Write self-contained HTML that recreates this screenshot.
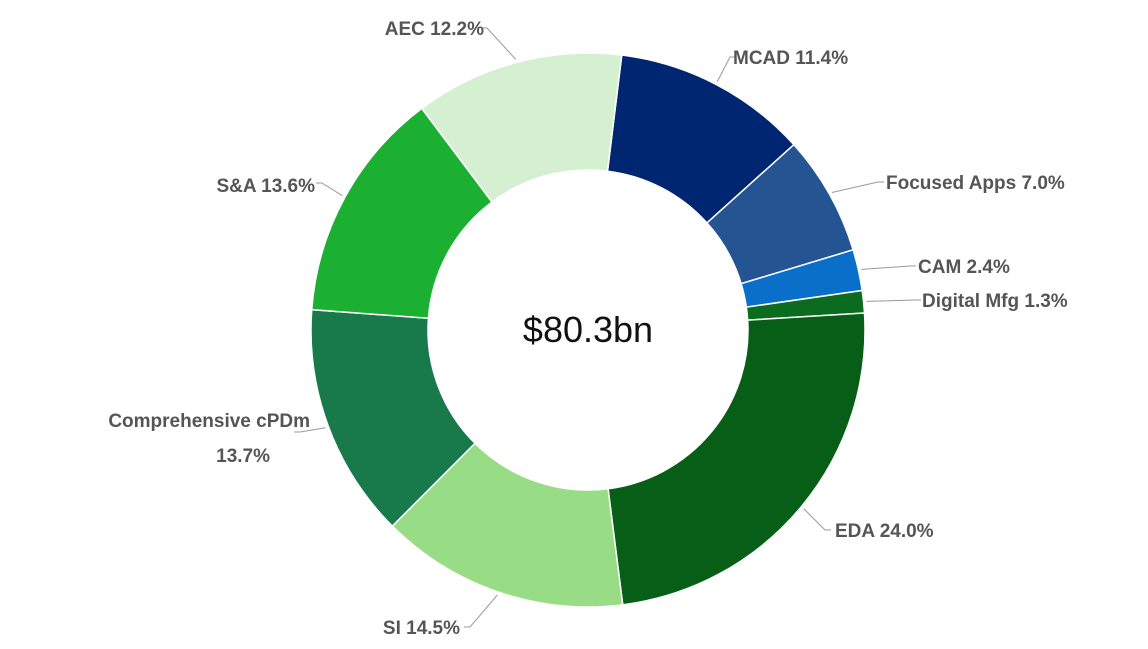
<!DOCTYPE html>
<html><head><meta charset="utf-8"><style>
body{margin:0;background:#fff;}
svg{display:block;font-family:"Liberation Sans",sans-serif;}
.lbl{font-size:19px;font-weight:bold;fill:#555;}
</style></head><body>
<svg id="chart" width="1148" height="649" viewBox="0 0 1148 649"></svg>
<script>
const categories=["MCAD","Focused Apps","CAM","Digital Mfg","EDA","SI","Comprehensive cPDm","S&A","AEC"];
const values=[11.4,7.0,2.4,1.3,24.0,14.5,13.7,13.6,12.2];
const colors=["#002672","#245592","#0a6fc9","#0b6b1e","#065e17","#98dd85","#187a4b","#1bb032","#d5f0d0"];
const labelPos=[[733,64,"start"],[886,189,"start"],[918,273,"start"],[922,307,"start"],[835,537,"start"],[460,634,"end"],[310,427,"end"],[315,192,"end"],[484,35,"end"]];
const leaderEnd=[[730,57],[878,182],[910,266],[915,300],[825,530],[470,627],[300,432],[322,183],[487,28]];
const cx=588,cy=330,R=277,r=160,startDeg=7;
const svg=document.getElementById('chart');
const NS="http://www.w3.org/2000/svg";
const total=values.reduce((a,b)=>a+b,0);
function pt(deg,rad){const a=(deg-90)*Math.PI/180;return [cx+rad*Math.cos(a),cy+rad*Math.sin(a)];}
let acc=startDeg;
values.forEach((v,i)=>{
  const a0=acc,a1=acc+v/total*360;acc=a1;
  const p0=pt(a0,R),p1=pt(a1,R),q1=pt(a1,r),q0=pt(a0,r);
  const large=(a1-a0)>180?1:0;
  const path=document.createElementNS(NS,'path');
  path.setAttribute('d',`M${p0[0]},${p0[1]} A${R},${R} 0 ${large} 1 ${p1[0]},${p1[1]} L${q1[0]},${q1[1]} A${r},${r} 0 ${large} 0 ${q0[0]},${q0[1]} Z`);
  path.setAttribute('fill',colors[i]);
  path.setAttribute('stroke','#fff');path.setAttribute('stroke-width','1.5');
  
  
  svg.appendChild(path);
  const mid=(a0+a1)/2;const m=pt(mid,R+3);const e=leaderEnd[i];
  const line=document.createElementNS(NS,'polyline');
  line.setAttribute('points',`${m[0]},${m[1]} ${e[0]},${e[1]} ${e[0]+(labelPos[i][2]=="start"?6:-6)},${e[1]}`);
  line.setAttribute('fill','none');line.setAttribute('stroke','#999');line.setAttribute('stroke-width','1');
  
  
  svg.appendChild(line);
  const lp=labelPos[i];
  const t=document.createElementNS(NS,'text');
  t.setAttribute('class','lbl');t.setAttribute('text-anchor',lp[2]);
  
  
  if(categories[i]=="Comprehensive cPDm"){
    t.setAttribute('x',lp[0]);t.setAttribute('y',lp[1]);
    t.textContent=categories[i];
    const t2=document.createElementNS(NS,'text');
    t2.setAttribute('class','lbl');t2.setAttribute('text-anchor','end');
    t2.setAttribute('x',270);t2.setAttribute('y',lp[1]+35);
    
    
    t2.textContent=v.toFixed(1)+"%";
    svg.appendChild(t2);
  } else {
    t.setAttribute('x',lp[0]);t.setAttribute('y',lp[1]);
    t.textContent=categories[i]+" "+v.toFixed(1)+"%";
  }
  svg.appendChild(t);
});
const c=document.createElementNS(NS,'text');
c.setAttribute('x',cx);c.setAttribute('y',cy+12);c.setAttribute('text-anchor','middle');
c.setAttribute('font-size','36');c.setAttribute('fill','#111');


c.textContent="$80.3bn";
svg.appendChild(c);
</script>
</body></html>
